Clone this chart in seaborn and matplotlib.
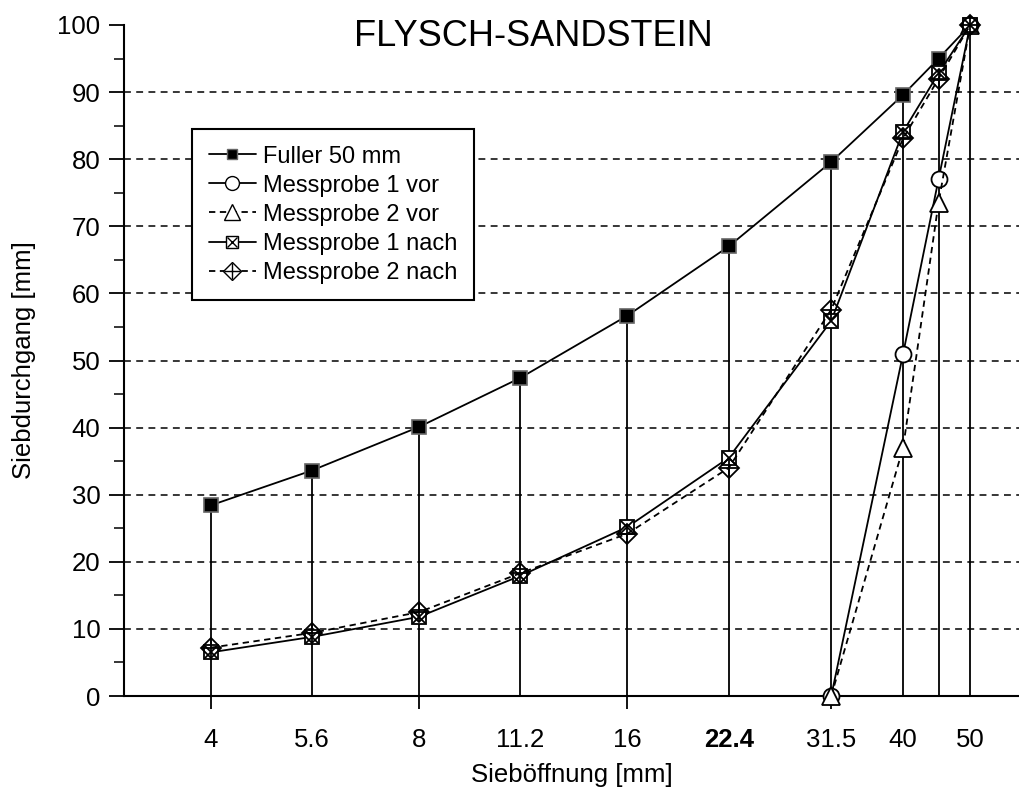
import matplotlib
matplotlib.use("Agg")
import matplotlib.pyplot as plt
import seaborn as sns
import numpy as np
import pandas as pd
from matplotlib.lines import Line2D
from matplotlib.ticker import FixedLocator, NullLocator, MultipleLocator

# ---- data ----
sieve_all = [4, 5.6, 8, 11.2, 16, 22.4, 31.5, 40, 45, 50]
fuller = [28.4, 33.6, 40.1, 47.4, 56.7, 67.0, 79.6, 89.6, 95.0, 100.0]
sieve_vor = [31.5, 40, 45, 50]
m1_vor = [0.0, 51.0, 77.0, 100.0]
m2_vor = [0.0, 37.0, 73.5, 100.0]
m1_nach = [6.5, 8.8, 11.8, 17.9, 25.2, 35.5, 55.9, 84.1, 92.8, 100.0]
m2_nach = [7.2, 9.4, 12.5, 18.3, 24.2, 34.0, 57.6, 83.1, 92.0, 100.0]

tick_vals = [4, 5.6, 8, 11.2, 16, 22.4, 31.5, 40, 50]
tick_labels = ["4", "5.6", "8", "11.2", "16", "22.4", "31.5", "40", "50"]
ticks_with_mark = [4, 8, 16, 31.5]

title = "FLYSCH-SANDSTEIN"
xlabel = "Sieböffnung [mm]"
ylabel = "Siebdurchgang [mm]"
names = ["Fuller 50 mm", "Messprobe 1 vor", "Messprobe 2 vor",
         "Messprobe 1 nach", "Messprobe 2 nach"]

sns.set_theme(style="white")
plt.rcParams['font.family'] = ['Liberation Sans', 'DejaVu Sans']
plt.rcParams['text.color'] = 'black'
plt.rcParams['axes.labelcolor'] = 'black'

fig = plt.figure(figsize=(10.2, 7.93), dpi=100)
ax = fig.add_axes([124/1020, 97/793, 896/1020, 671/793])
ax.set_xscale('log')
ax.set_xlim(3.0, 59.0)
ax.set_ylim(0, 100)

# grid (horizontal dashed)
for yv in range(10, 100, 10):
    ax.axhline(yv, color='black', lw=1.1, ls=(0, (4.5, 3.5)), zorder=1)

# drop lines
ax.vlines(sieve_all, 0, fuller, color='black', lw=1.3, zorder=2)

lw = 1.3
dash = (0, (3.5, 2.5))
df_f = pd.DataFrame({"x": sieve_all, "y": fuller})
sns.lineplot(data=df_f, x="x", y="y", ax=ax, color='black', lw=lw, marker='s',
             markersize=9.5, markerfacecolor='black', markeredgecolor='#666666',
             markeredgewidth=1.2, zorder=5, clip_on=False)
df1v = pd.DataFrame({"x": sieve_vor, "y": m1_vor})
sns.lineplot(data=df1v, x="x", y="y", ax=ax, color='black', lw=lw, marker='o',
             markersize=11.5, markerfacecolor='white', markeredgecolor='black',
             markeredgewidth=1.3, zorder=5, clip_on=False)
df2v = pd.DataFrame({"x": sieve_vor, "y": m2_vor})
sns.lineplot(data=df2v, x="x", y="y", ax=ax, color='black', lw=lw, ls=dash,
             marker='^', markersize=12.5, markerfacecolor='white',
             markeredgecolor='black', markeredgewidth=1.3, zorder=5, clip_on=False)
df1n = pd.DataFrame({"x": sieve_all, "y": m1_nach})
sns.lineplot(data=df1n, x="x", y="y", ax=ax, color='black', lw=lw, marker='s',
             markersize=10, markerfacecolor='white', markeredgecolor='black',
             markeredgewidth=1.3, zorder=5, clip_on=False)
ax.plot(sieve_all, m1_nach, ls='none', marker='x', markersize=8,
        markeredgecolor='black', markeredgewidth=1.3, zorder=6, clip_on=False)
df2n = pd.DataFrame({"x": sieve_all, "y": m2_nach})
sns.lineplot(data=df2n, x="x", y="y", ax=ax, color='black', lw=lw, ls=dash,
             marker='D', markersize=10, markerfacecolor='none',
             markeredgecolor='black', markeredgewidth=1.3, zorder=5, clip_on=False)
ax.plot(sieve_all, m2_nach, ls='none', marker='+', markersize=12.5,
        markeredgecolor='black', markeredgewidth=1.3, zorder=6, clip_on=False)

# axes styling
for s in ['top', 'right']:
    ax.spines[s].set_visible(False)
for s in ['left', 'bottom']:
    ax.spines[s].set_color('black')
    ax.spines[s].set_linewidth(1.5)

ax.xaxis.set_major_locator(FixedLocator(tick_vals))
ax.xaxis.set_minor_locator(NullLocator())
ax.set_xticklabels(tick_labels)
ax.tick_params(axis='x', which='major', direction='out', length=9, width=1.3,
               pad=14, labelsize=18.5, colors='black', bottom=True)
for t, v in zip(ax.xaxis.get_major_ticks(), tick_vals):
    if v not in ticks_with_mark:
        t.tick1line.set_visible(False)
ax.get_xticklabels()[5].set_fontweight('bold')

ax.yaxis.set_major_locator(MultipleLocator(10))
ax.yaxis.set_minor_locator(MultipleLocator(5))
ax.tick_params(axis='y', which='major', direction='out', length=11, width=1.3,
               pad=6, labelsize=18.5, colors='black', left=True)
ax.tick_params(axis='y', which='minor', direction='out', length=7, width=1.3,
               left=True)

ax.set_xlabel(xlabel, fontsize=18.5, color='black', labelpad=8)
ax.set_ylabel(ylabel, fontsize=18.5, color='black', labelpad=8)
ax.yaxis.set_label_coords(-0.098, 0.5)

fig.text(533/1020, 1 - 36/793, title, fontsize=26, ha='center', va='center',
         color='black')

# legend
h_f = Line2D([], [], color='black', lw=lw, marker='s', markersize=7.5,
             markerfacecolor='black', markeredgecolor='#666666')
h_1v = Line2D([], [], color='black', lw=lw, marker='o', markersize=10,
              markerfacecolor='white', markeredgecolor='black')
h_2v = Line2D([], [], color='black', lw=lw, ls=dash, marker='^', markersize=11,
              markerfacecolor='white', markeredgecolor='black')
h_1n = (Line2D([], [], color='black', lw=lw, marker='s', markersize=8,
               markerfacecolor='white', markeredgecolor='black'),
        Line2D([], [], ls='none', marker='x', markersize=7, markeredgecolor='black'))
h_2n = (Line2D([], [], color='black', lw=lw, ls=dash, marker='D', markersize=9,
               markerfacecolor='white', markeredgecolor='black'),
        Line2D([], [], ls='none', marker='+', markersize=11, markeredgecolor='black'))
leg = ax.legend([h_f, h_1v, h_2v, h_1n, h_2n], names, loc='upper left',
                bbox_to_anchor=(68/896, (696-129)/671), borderaxespad=0,
                fontsize=17, frameon=True, fancybox=False, framealpha=1,
                edgecolor='black', handlelength=2.0, handletextpad=0.3,
                borderpad=0.7, labelspacing=0.3)
leg.get_frame().set_linewidth(1.5)
leg.set_zorder(10)
for txt in leg.get_texts():
    txt.set_color('black')

fig.savefig("out.png", dpi=100, facecolor='white')
